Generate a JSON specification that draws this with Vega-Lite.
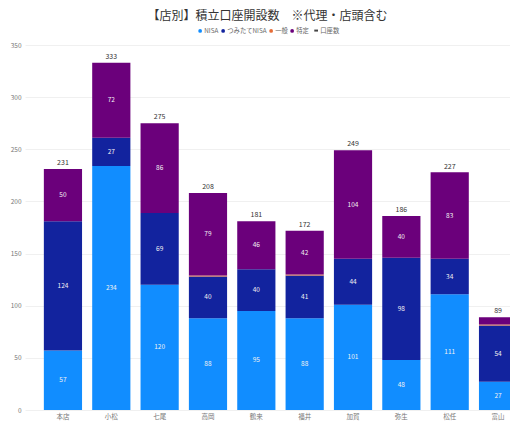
{
  "$schema": "https://vega.github.io/schema/vega-lite/v6.json",
  "autosize": {"type": "none"},
  "width": 485,
  "height": 365,
  "padding": {"left": 25, "top": 45, "right": 0, "bottom": 15},
  "background": "white",
  "title": {
    "text": "【店別】積立口座開設数　※代理・店頭含む",
    "fontSize": 12,
    "fontWeight": "normal",
    "color": "#333333",
    "font": "Noto Sans CJK JP",
    "offset": 4,
    "anchor": "middle"
  },
  "config": {
    "font": "Noto Sans CJK JP",
    "view": {"stroke": null}
  },
  "datasets": {
    "parts": [
      {"store": "本店", "type": "NISA", "value": 57},
      {"store": "本店", "type": "つみたてNISA", "value": 124},
      {"store": "本店", "type": "特定", "value": 50},
      {"store": "小松", "type": "NISA", "value": 234},
      {"store": "小松", "type": "つみたてNISA", "value": 27},
      {"store": "小松", "type": "特定", "value": 72},
      {"store": "七尾", "type": "NISA", "value": 120},
      {"store": "七尾", "type": "つみたてNISA", "value": 69},
      {"store": "七尾", "type": "特定", "value": 86},
      {"store": "高岡", "type": "NISA", "value": 88},
      {"store": "高岡", "type": "つみたてNISA", "value": 40},
      {"store": "高岡", "type": "一般", "value": 1},
      {"store": "高岡", "type": "特定", "value": 79},
      {"store": "鶴来", "type": "NISA", "value": 95},
      {"store": "鶴来", "type": "つみたてNISA", "value": 40},
      {"store": "鶴来", "type": "特定", "value": 46},
      {"store": "福井", "type": "NISA", "value": 88},
      {"store": "福井", "type": "つみたてNISA", "value": 41},
      {"store": "福井", "type": "一般", "value": 1},
      {"store": "福井", "type": "特定", "value": 42},
      {"store": "加賀", "type": "NISA", "value": 101},
      {"store": "加賀", "type": "つみたてNISA", "value": 44},
      {"store": "加賀", "type": "特定", "value": 104},
      {"store": "弥生", "type": "NISA", "value": 48},
      {"store": "弥生", "type": "つみたてNISA", "value": 98},
      {"store": "弥生", "type": "特定", "value": 40},
      {"store": "松任", "type": "NISA", "value": 111},
      {"store": "松任", "type": "つみたてNISA", "value": 34},
      {"store": "松任", "type": "特定", "value": 83},
      {"store": "富山", "type": "NISA", "value": 27},
      {"store": "富山", "type": "つみたてNISA", "value": 54},
      {"store": "富山", "type": "一般", "value": 1},
      {"store": "富山", "type": "特定", "value": 7}
    ],
    "totals": [
      {"store": "本店", "total": 231},
      {"store": "小松", "total": 333},
      {"store": "七尾", "total": 275},
      {"store": "高岡", "total": 208},
      {"store": "鶴来", "total": 181},
      {"store": "福井", "total": 172},
      {"store": "加賀", "total": 249},
      {"store": "弥生", "total": 186},
      {"store": "松任", "total": 227},
      {"store": "富山", "total": 89}
    ]
  },
  "encoding": {
    "x": {
      "field": "store",
      "type": "nominal",
      "sort": ["本店", "小松", "七尾", "高岡", "鶴来", "福井", "加賀", "弥生", "松任", "富山"],
      "scale": {"range": [0, 511], "paddingInner": 0.21, "paddingOuter": 0.39},
      "axis": {
        "title": null,
        "domain": false,
        "ticks": false,
        "labelAngle": 0,
        "labelFontSize": 6.5,
        "labelColor": "#777777",
        "labelPadding": 3
      }
    }
  },
  "layer": [
    {
      "data": {"name": "parts"},
      "mark": {"type": "bar", "clip": true},
      "encoding": {
        "y": {
          "field": "value",
          "type": "quantitative",
          "stack": "zero",
          "scale": {"domain": [0, 350], "nice": false},
          "axis": {
            "title": null,
            "values": [0, 50, 100, 150, 200, 250, 300, 350],
            "domain": false,
            "ticks": false,
            "labelFontSize": 6.5,
            "labelColor": "#777777",
            "labelPadding": 4,
            "gridColor": "#ececec",
            "gridWidth": 0.8
          }
        },
        "order": {"field": "type", "sort": "ascending"},
        "color": {
          "field": "type",
          "type": "nominal",
          "sort": ["NISA", "つみたてNISA", "一般", "特定", "口座数"],
          "scale": {
            "domain": ["NISA", "つみたてNISA", "一般", "特定", "口座数"],
            "range": ["#118DFF", "#12239E", "#E66C37", "#6B007B", "#444444"]
          },
          "legend": {
            "title": null,
            "orient": "none",
            "direction": "horizontal",
            "legendX": 172,
            "legendY": -18,
            "symbolType": "circle",
            "symbolSize": 14,
            "labelFontSize": 6.3,
            "labelColor": "#666666",
            "labelOffset": 1,
            "columnPadding": 1,
            "encode": {
              "symbols": {
                "update": {
                  "shape": {"signal": "datum.value === '口座数' ? 'stroke' : 'circle'"},
                  "stroke": {"signal": "scale('color', datum.value)"},
                  "strokeWidth": {"signal": "datum.value === '口座数' ? 2 : 0"}
                }
              }
            }
          }
        }
      }
    },
    {
      "data": {"name": "parts"},
      "mark": {"type": "text", "fontSize": 6.5, "color": "#f2f2f2", "baseline": "middle", "clip": true},
      "encoding": {
        "y": {"field": "value", "type": "quantitative", "stack": "zero", "bandPosition": 0.5},
        "detail": {"field": "type", "type": "nominal"},
        "order": {"field": "type", "sort": "ascending"},
        "text": {"field": "value", "type": "quantitative"},
        "opacity": {"condition": {"test": "datum.value < 10", "value": 0}, "value": 1}
      }
    },
    {
      "data": {"name": "totals"},
      "mark": {"type": "text", "fontSize": 7, "color": "#333333", "baseline": "bottom", "dy": -3},
      "encoding": {
        "y": {"field": "total", "type": "quantitative"},
        "text": {"field": "total", "type": "quantitative"}
      }
    }
  ]
}
